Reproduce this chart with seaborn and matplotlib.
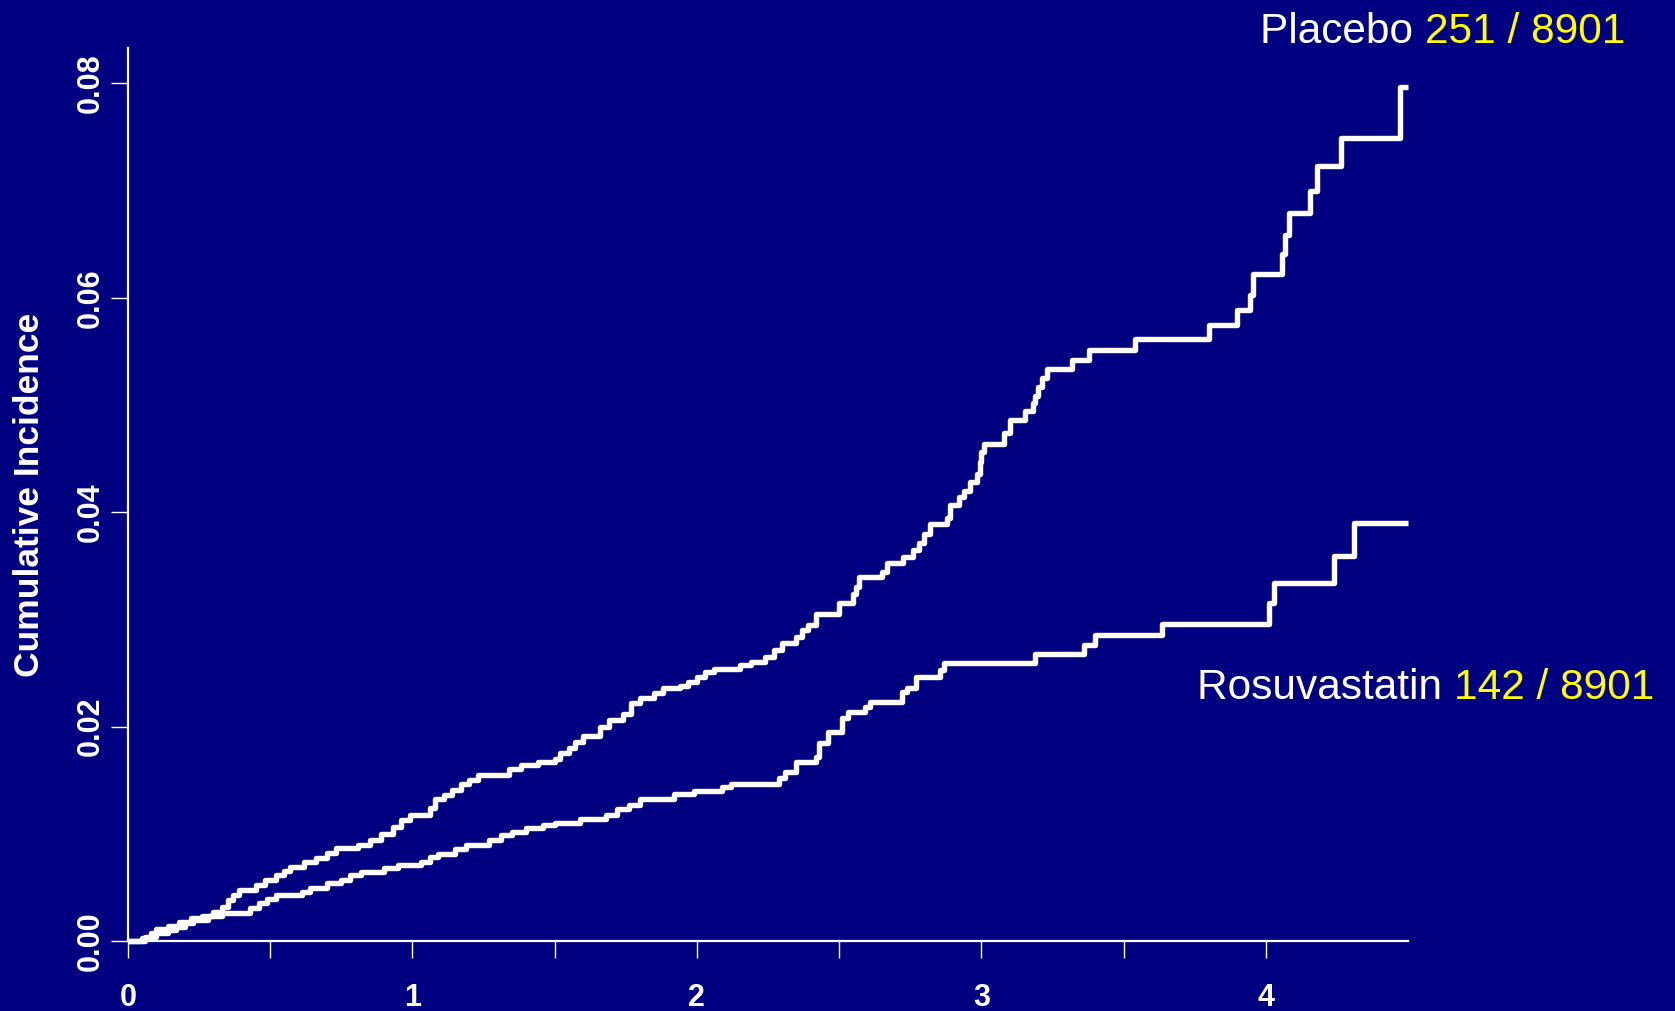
import matplotlib
matplotlib.use("Agg")
import matplotlib.pyplot as plt
from matplotlib.ticker import FixedLocator, FixedFormatter
import numpy as np
import pandas as pd
import seaborn as sns

# Kaplan-Meier style cumulative incidence (step points: time in years, incidence)
placebo_t = [0, 0.05, 0.08, 0.10, 0.14, 0.18, 0.22, 0.26, 0.30, 0.33, 0.35, 0.37,
             0.39, 0.45, 0.48, 0.52, 0.55, 0.57, 0.62, 0.66, 0.70, 0.73, 0.81, 0.85,
             0.89, 0.93, 0.96, 0.99, 1.06, 1.08, 1.11, 1.14, 1.17, 1.20, 1.23, 1.34,
             1.38, 1.44, 1.50, 1.52, 1.55, 1.57, 1.60, 1.66, 1.69, 1.74, 1.77, 1.80,
             1.85, 1.88, 1.94, 1.97, 2.00, 2.03, 2.06, 2.15, 2.19, 2.24, 2.27, 2.30,
             2.35, 2.37, 2.39, 2.42, 2.50, 2.55, 2.56, 2.57, 2.65, 2.67, 2.725, 2.76,
             2.78, 2.80, 2.82, 2.88, 2.89, 2.92, 2.94, 2.96, 2.985, 2.995, 3.00, 3.01,
             3.08, 3.10, 3.155, 3.18, 3.19, 3.20, 3.215, 3.23, 3.32, 3.38, 3.54, 3.80,
             3.90, 3.945, 3.955, 4.057, 4.068, 4.08, 4.156, 4.18, 4.265, 4.473, 4.50]
placebo_ci = [0, 0.0003, 0.0007, 0.0011, 0.0014, 0.0018, 0.0021, 0.0023, 0.0027,
              0.0032, 0.0038, 0.0043, 0.0048, 0.0052, 0.0057, 0.0062, 0.0065, 0.0069,
              0.0074, 0.0077, 0.0082, 0.0087, 0.0090, 0.0094, 0.0100, 0.0106, 0.0113,
              0.0118, 0.0124, 0.0132, 0.0136, 0.0141, 0.0146, 0.0150, 0.0155, 0.0160,
              0.0164, 0.0167, 0.0170, 0.0175, 0.0180, 0.0186, 0.0191, 0.0200, 0.0206,
              0.0212, 0.0222, 0.0227, 0.0231, 0.0236, 0.0238, 0.0242, 0.0246, 0.0251,
              0.0254, 0.0257, 0.0260, 0.0265, 0.0271, 0.0278, 0.0284, 0.0290, 0.0295,
              0.0305, 0.0315, 0.0324, 0.0330, 0.0340, 0.0344, 0.0353, 0.0358, 0.0365,
              0.0371, 0.0380, 0.0389, 0.0395, 0.0407, 0.0414, 0.0420, 0.0428, 0.0436,
              0.0447, 0.0456, 0.0464, 0.0474, 0.0486, 0.0494, 0.0502, 0.0508, 0.0517,
              0.0525, 0.0534, 0.0542, 0.0551, 0.0562, 0.0575, 0.0589, 0.0603, 0.0622,
              0.0641, 0.0659, 0.0679, 0.0700, 0.0723, 0.0749, 0.0797, 0.0797]

rosuva_t = [0, 0.06, 0.10, 0.14, 0.17, 0.20, 0.23, 0.28, 0.33, 0.43, 0.46, 0.49,
            0.52, 0.61, 0.64, 0.70, 0.75, 0.78, 0.82, 0.90, 0.95, 1.03, 1.06, 1.09,
            1.15, 1.19, 1.27, 1.31, 1.35, 1.40, 1.46, 1.50, 1.59, 1.68, 1.72, 1.76,
            1.80, 1.92, 1.99, 2.09, 2.12, 2.29, 2.31, 2.35, 2.42, 2.43, 2.46, 2.51,
            2.53, 2.59, 2.61, 2.72, 2.74, 2.77, 2.855, 2.87, 3.19, 3.36, 3.40, 3.635,
            4.01, 4.03, 4.24, 4.31, 4.50]
rosuva_ci = [0, 0.0004, 0.0007, 0.0010, 0.0013, 0.0017, 0.0020, 0.0023, 0.0026,
             0.0031, 0.0035, 0.0039, 0.0043, 0.0046, 0.0049, 0.0054, 0.0057, 0.0062,
             0.0064, 0.0068, 0.0071, 0.0074, 0.0078, 0.0081, 0.0086, 0.0090, 0.0094,
             0.0099, 0.0102, 0.0105, 0.0108, 0.0110, 0.0114, 0.0118, 0.0123, 0.0127,
             0.0132, 0.0137, 0.0140, 0.0144, 0.0146, 0.0152, 0.0158, 0.0167, 0.0172,
             0.0185, 0.0195, 0.0208, 0.0214, 0.0218, 0.0223, 0.0232, 0.0236, 0.0246,
             0.0253, 0.0259, 0.0268, 0.0276, 0.0285, 0.0296, 0.0315, 0.0334, 0.0359,
             0.0390, 0.0390]

groups = ["Placebo", "Rosuvastatin"]
events = ["251 / 8901", "142 / 8901"]

x_ticks = [0, 1, 2, 3, 4]
x_minor = [0.5, 1.5, 2.5, 3.5]
y_ticks = [0.00, 0.02, 0.04, 0.06, 0.08]
y_tick_labels = ["0.00", "0.02", "0.04", "0.06", "0.08"]

NAVY = "#000080"
YELLOW = "#FFFF00"

sns.set_theme(style="white")
plt.rcParams["font.family"] = ["Liberation Sans", "DejaVu Sans"]

df = pd.concat([
    pd.DataFrame({"time": placebo_t, "ci": placebo_ci, "group": groups[0]}),
    pd.DataFrame({"time": rosuva_t, "ci": rosuva_ci, "group": groups[1]}),
])

fig = plt.figure(figsize=(16.75, 10.11), dpi=100, facecolor=NAVY)
ax = fig.add_axes([128 / 1675, 1 - 941 / 1011, 1280 / 1675, (941 - 48) / 1011])
ax.set_facecolor(NAVY)

sns.lineplot(data=df, x="time", y="ci", hue="group", units="group",
             estimator=None, palette={g: "white" for g in groups},
             drawstyle="steps-post", linewidth=3.9, legend=False,
             solid_capstyle="butt", clip_on=False, ax=ax)

ax.set_xlim(0, 4.5)
ax.set_ylim(0, 0.0833)

for side in ["top", "right"]:
    ax.spines[side].set_visible(False)
for side in ["left", "bottom"]:
    ax.spines[side].set_color("white")
    ax.spines[side].set_linewidth(1.6)

ax.xaxis.set_major_locator(FixedLocator(x_ticks))
ax.xaxis.set_major_formatter(FixedFormatter([str(v) for v in x_ticks]))
ax.xaxis.set_minor_locator(FixedLocator(x_minor))
ax.yaxis.set_major_locator(FixedLocator(y_ticks))
ax.yaxis.set_major_formatter(FixedFormatter(y_tick_labels))

ax.tick_params(axis="x", which="both", direction="out", length=12.2, width=1.0,
               color="white", bottom=True)
ax.tick_params(axis="x", which="major", pad=18, labelsize=22, labelcolor="white")
ax.tick_params(axis="y", which="major", direction="out", length=12.2, width=1.0,
               color="white", left=True, pad=4, labelsize=22, labelcolor="white",
               labelrotation=90)
for lab in ax.get_xticklabels():
    lab.set_fontweight("bold")
for lab in ax.get_yticklabels():
    lab.set_fontweight("bold")
    lab.set_verticalalignment("center")

ax.set_xlabel("")
ax.set_ylabel("Cumulative Incidence", color="white", fontsize=25.5,
              fontweight="bold")
ax.yaxis.label.set_verticalalignment("center")
ax.yaxis.set_label_coords((30 - 128) / 1280, 0.5)

# Group labels with event counts, white name + yellow count
renderer = fig.canvas.get_renderer()
label_pos = [(1625, 43), (1654, 699)]
for name, ev, (xr, yb) in zip(groups, events, label_pos):
    t_ev = fig.text(xr / 1675, 1 - yb / 1011, ev, color=YELLOW, fontsize=30.5,
                    ha="right", va="baseline")
    bb = t_ev.get_window_extent(renderer)
    fig.text(bb.x0 / 1675, 1 - yb / 1011, name + " ", color="white",
             fontsize=30.5, ha="right", va="baseline")

fig.savefig("out.png", dpi=100, facecolor=NAVY)
